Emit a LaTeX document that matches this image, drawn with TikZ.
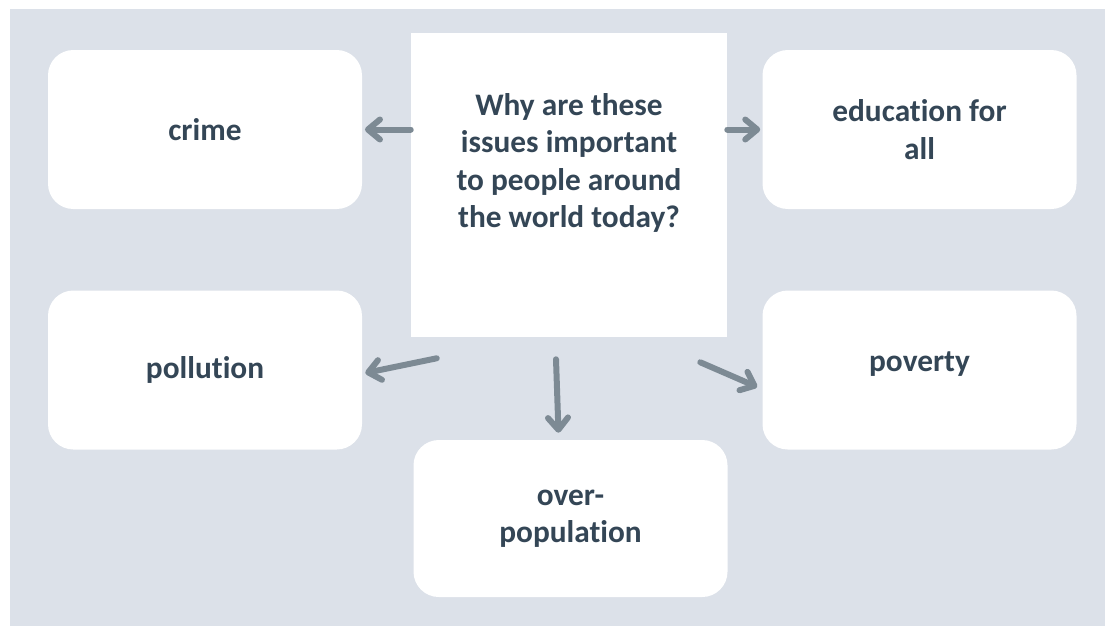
\documentclass[tikz,border=0pt]{standalone}
\usepackage{fontspec}
\setmainfont{Carlito}[Ligatures=NoCommon]
\usetikzlibrary{arrows.meta}

\definecolor{panelgrey}{RGB}{220,225,233}
\definecolor{inkslate}{RGB}{52,70,86}
\definecolor{arrowgrey}{RGB}{125,138,148}

\begin{document}
\begin{tikzpicture}[x=0.75pt,y=0.75pt,yscale=-1,xscale=1,
  issuebox/.style={fill=white, rounded corners=19pt, minimum width=235.5pt, minimum height=119.25pt, inner sep=0pt},
  centrebox/.style={fill=white, minimum width=237pt, minimum height=228pt, inner sep=0pt},
  issuetext/.style={text=inkslate, font=\fontsize{23.5}{28}\selectfont\bfseries, align=center},
  arr/.style={draw=arrowgrey, line width=4.5pt, line cap=round, -{Straight Barb[length=9pt,width=15pt,line cap=round,line join=round]}}]
%uncomment if require: \path (0,626); %set diagram left start at 0, and has height of 626
\useasboundingbox (0,0) rectangle (1105,626);

%Shape: Background
\fill [panelgrey] (10,9) rectangle (1105,626);

%Shape: Boxes
\node [issuebox] (crime) at (205,129.5) {};
\node [issuebox] (education) at (919.5,129.5) {};
\node [issuebox] (pollution) at (205,370) {};
\node [issuebox] (poverty) at (919.5,370) {};
\node [issuebox, minimum height=117.75pt] (overpop) at (570.5,518.5) {};
\node [centrebox] (issues) at (569,185) {};

% Text Node
\node [issuetext] (crimetext) at (crime) {crime};
% Text Node
\node [issuetext] (educationtext) at (education) {education for\\all};
% Text Node
\node [issuetext] (pollutiontext) at (pollution) {pollution};
% Text Node
\node [issuetext] (povertytext) at (919.5,364) {poverty};
% Text Node
\node [issuetext] (overpoptext) at (overpop) {over-\\population};
% Text Node
\node [issuetext] (question) at (569,163) {Why are these\\issues important\\to people around\\the world today?};

%Arrows (shifts follow yscale=-1, so positive yshift is downwards)
\draw [arr] (issues.west |- crime.east) -- ([xshift=2pt]crime.east);
\draw [arr] (issues.east |- education.west) -- ([xshift=-1.5pt]education.west);
\draw [arr] ([xshift=19.5pt,yshift=15.75pt]issues.south west) -- ([xshift=2.25pt,yshift=2.25pt]pollution.east);
\draw [arr] ([xshift=-9.75pt,yshift=16.5pt]issues.south) -- ([xshift=-9pt,yshift=-5.25pt]overpop.north);
\draw [arr] ([xshift=-20.25pt,yshift=18.75pt]issues.south east) -- ([xshift=-3.75pt,yshift=12.75pt]poverty.west);

\end{tikzpicture}
\end{document}
